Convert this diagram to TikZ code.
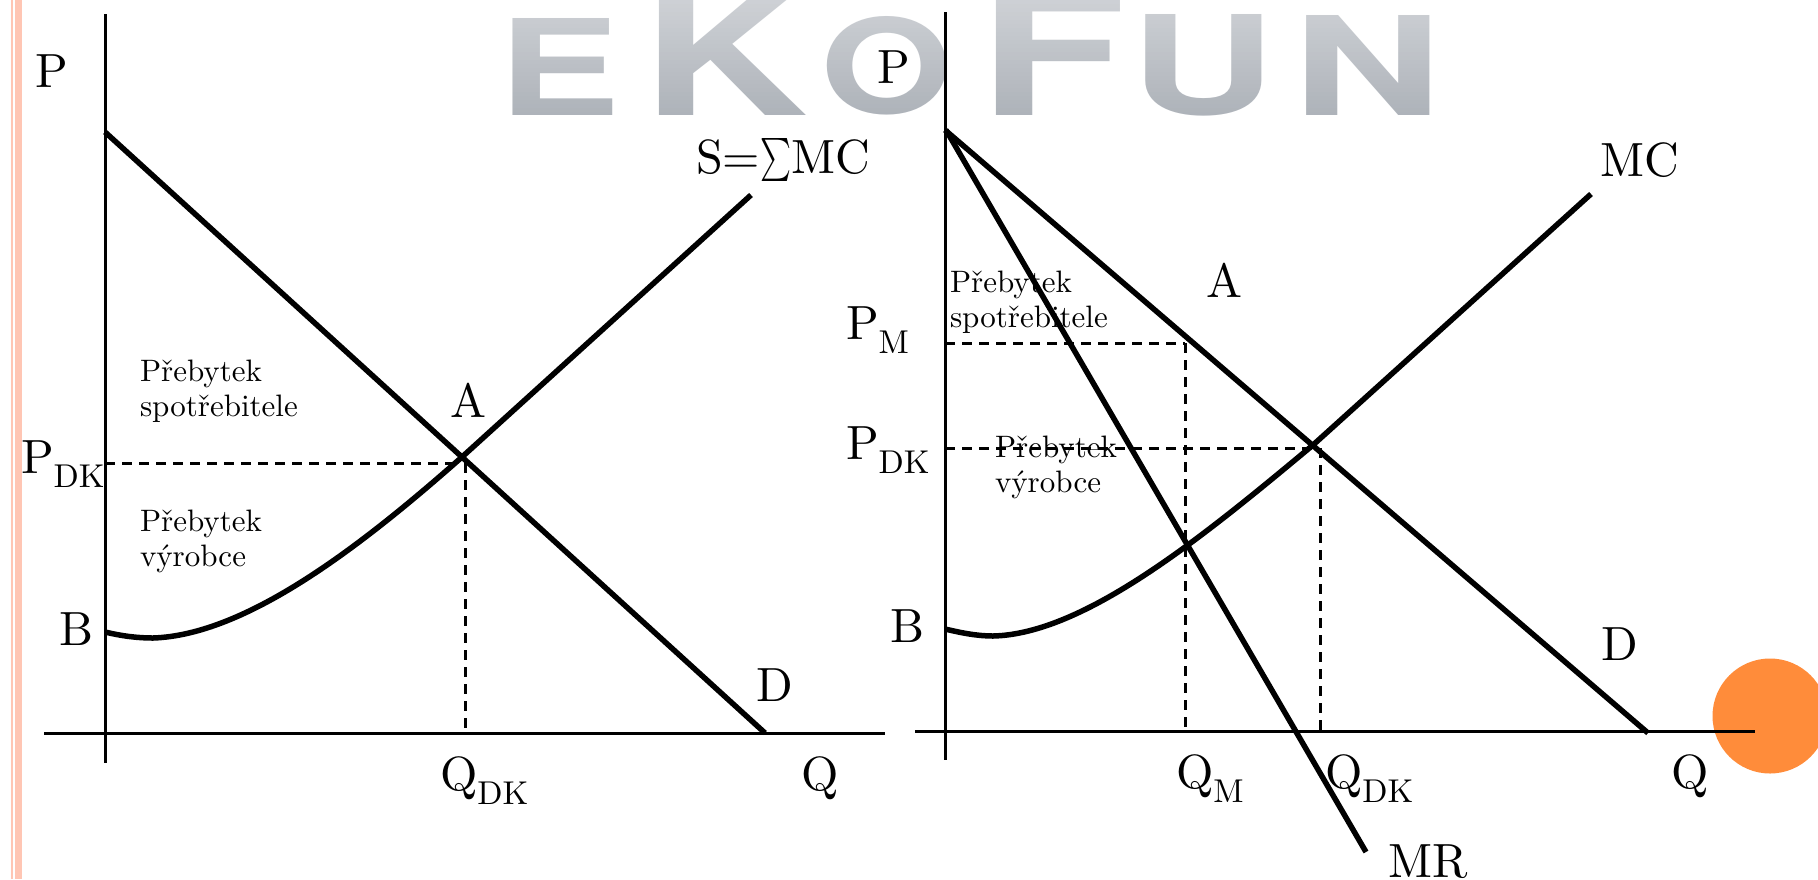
\documentclass[tikz,border=0pt]{standalone}
\usepackage{fontspec}
\usepackage{graphicx}
\newfontfamily\wmfont{TeX Gyre Heros}
\definecolor{wmgray}{HTML}{ADB2B9}
\definecolor{barsalmon}{HTML}{FFC6B4}
\definecolor{dotorange}{HTML}{FF8C3A}
\newcommand{\bigtxt}[1]{\scalebox{4.8}{#1}}
\newcommand{\smalltxt}[1]{\scalebox{3.1}{#1}}
\newcommand{\subsz}[1]{\raisebox{-14pt}{\scalebox{3.3}{#1}}}
\newcommand{\wmletter}[6]{\node[wmstyle,anchor=south west] (#1) at (#2,#3) {\resizebox{#4pt}{#5pt}{\wmfont\bfseries #6}};}
\tikzset{
  axisline/.style={line width=3pt,black},
  curveline/.style={line width=5.5pt,black},
  guideline/.style={line width=3pt,black,dash pattern=on 10pt off 7pt},
  biglabel/.style={anchor=base west,inner sep=0pt,outer sep=0pt},
  smalllabel/.style={anchor=base west,inner sep=0pt,outer sep=0pt},
  wmstyle/.style={inner sep=0pt,outer sep=0pt,text=wmgray},
}
\begin{document}
\begin{tikzpicture}[x=1pt,y=-1pt]
\useasboundingbox (0,0) rectangle (1818,879);
\clip (0,0) rectangle (1818,879);
\fill[white] (0,0) rectangle (1818,879);
% margin bars and dot
\fill[barsalmon] (10.7,0) rectangle (12.7,879);
\fill[barsalmon] (15,0) rectangle (22,879);
\fill[dotorange] (1770,716) circle (57.5);
% watermark
\wmletter{wmE}{498}{115}{122}{97}{E}
\wmletter{wmK}{642}{115}{165}{125}{K}
\wmletter{wmO}{820}{115}{132}{97}{O}
\wmletter{wmF}{978}{115}{148}{125}{F}
\wmletter{wmU}{1130}{116}{145}{100}{U}
\wmletter{wmN}{1292}{115}{150}{100}{N}
\foreach \s in {0,4,...,112}{
  \pgfmathsetmacro{\op}{0.4*(1-\s/116)}
  \fill[white,fill opacity=\op] (490,\s) rectangle (1450,\s+4);
}
% left chart
\coordinate (ltop) at (105,14); \coordinate (lbot) at (105,763);
\coordinate (lxl) at (44,733); \coordinate (lxr) at (885,733);
\coordinate (ld1) at (105,132); \coordinate (ld2) at (765,733);
\coordinate (lb) at (105,632); \coordinate (lmin) at (153,638);
\coordinate (la) at (462,457); \coordinate (ls) at (751,195);
\coordinate (lpd) at (105,463); \coordinate (lpe) at (462,463);
\coordinate (lqa) at (465,463); \coordinate (lqb) at (465,733);
\draw[axisline] (ltop) -- (lbot);
\draw[axisline] (lxl) -- (lxr);
\draw[guideline] (lpd) -- (lpe);
\draw[guideline] (lqa) -- (lqb);
\draw[curveline] (ld1) -- (ld2);
\draw[curveline] (lb) .. controls (122,636) and (137,638) .. (lmin) .. controls (245,635) and (358,549) .. (la) -- (ls);
% right chart
\coordinate (rtop) at (945,12); \coordinate (rbot) at (945,760);
\coordinate (rxl) at (915,731); \coordinate (rxr) at (1755,731);
\coordinate (rd1) at (945,130); \coordinate (rd2) at (1648,733);
\coordinate (rm1) at (946,130); \coordinate (rm2) at (1366,852);
\coordinate (rb) at (945,629); \coordinate (rmin) at (993,636);
\coordinate (ra) at (1313,445); \coordinate (rs) at (1591,194);
\coordinate (rpm1) at (945,343); \coordinate (rpm2) at (1185,343);
\coordinate (rqm) at (1185,731);
\coordinate (rpd1) at (945,448); \coordinate (rpd2) at (1313,448);
\coordinate (rq1) at (1320,448); \coordinate (rq2) at (1320,731);
\draw[axisline] (rtop) -- (rbot);
\draw[axisline] (rxl) -- (rxr);
\draw[guideline] (rpm1) -- (rpm2);
\draw[guideline] (rpm2) -- (rqm);
\draw[guideline] (rpd1) -- (rpd2);
\draw[guideline] (rq1) -- (rq2);
\draw[curveline] (rd1) -- (rd2);
\draw[curveline] (rm1) -- (rm2);
\draw[curveline] (rb) .. controls (962,633) and (977,636) .. (rmin) .. controls (1085,634) and (1205,535) .. (ra) -- (rs);
% left labels
\node[biglabel] (lP) at (35,87) {\bigtxt{P}};
\node[biglabel] (lPDK) at (21,473) {\bigtxt{P}\subsz{DK}};
\node[biglabel] (lB) at (59,645) {\bigtxt{B}};
\node[biglabel] (lA) at (450,417) {\bigtxt{A}};
\node[biglabel] (lS) at (696,173) {\bigtxt{S=}\raisebox{2pt}{\resizebox*{31pt}{43pt}{$\sum$}}\bigtxt{MC}};
\node[biglabel] (lD) at (756,701) {\bigtxt{D}};
\node[biglabel] (lQ) at (801,790) {\bigtxt{Q}};
\node[biglabel] (lQDK) at (440,790) {\bigtxt{Q}\subsz{DK}};
\node[smalllabel] (ls1) at (140,381) {\smalltxt{Přebytek}};
\node[smalllabel] (ls2) at (140,416) {\smalltxt{spotřebitele}};
\node[smalllabel] (lv1) at (140,531) {\smalltxt{Přebytek}};
\node[smalllabel] (lv2) at (140,566) {\smalltxt{výrobce}};
% right labels
\node[biglabel] (rP) at (877,83) {\bigtxt{P}};
\node[biglabel] (rPM) at (846,339) {\bigtxt{P}\subsz{M}};
\node[biglabel] (rPDK) at (846,459) {\bigtxt{P}\subsz{DK}};
\node[biglabel] (rA) at (1206,297) {\bigtxt{A}};
\node[biglabel] (rB) at (890,642) {\bigtxt{B}};
\node[biglabel] (rMC) at (1600,176) {\bigtxt{MC}};
\node[biglabel] (rD) at (1601,660) {\bigtxt{D}};
\node[biglabel] (rQ) at (1671,788) {\bigtxt{Q}};
\node[biglabel] (rQM) at (1176,788) {\bigtxt{Q}\subsz{M}};
\node[biglabel] (rQDK) at (1325,788) {\bigtxt{Q}\subsz{DK}};
\node[biglabel] (rMR) at (1388,877) {\bigtxt{MR}};
\node[smalllabel] (rs1) at (950,292) {\smalltxt{Přebytek}};
\node[smalllabel] (rs2) at (950,327) {\smalltxt{spotřebitele}};
\node[smalllabel] (rv1) at (995,457) {\smalltxt{Přebytek}};
\node[smalllabel] (rv2) at (995,492) {\smalltxt{výrobce}};
\end{tikzpicture}
\end{document}
